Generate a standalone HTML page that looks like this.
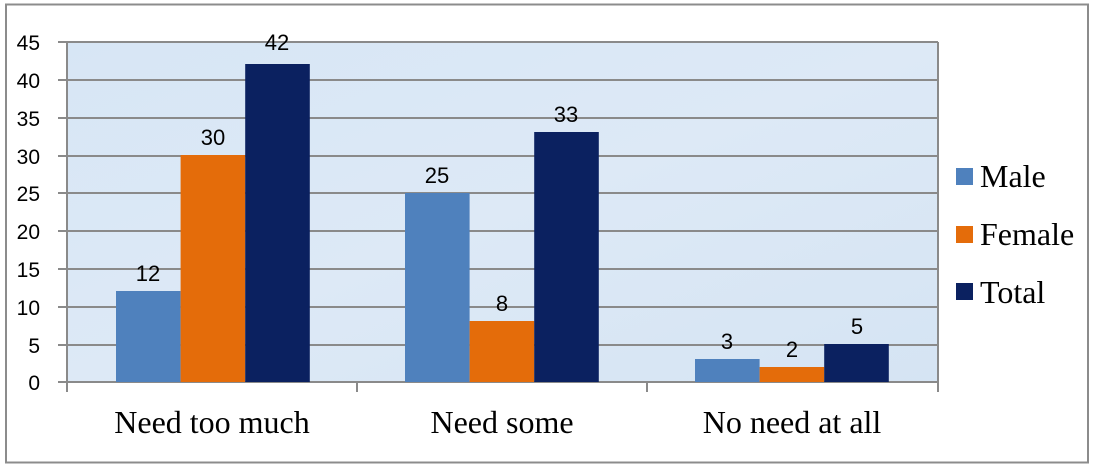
<!DOCTYPE html>
<html><head><meta charset="utf-8"><style>
body{margin:0;background:#fff;}
svg{display:block;}
</style></head><body>
<svg width="1095" height="467" xmlns="http://www.w3.org/2000/svg">
<defs>
<linearGradient id="bg" x1="0" y1="0" x2="1" y2="1">
<stop offset="0" stop-color="#d7e6f5"/><stop offset="0.5" stop-color="#dde9f6"/><stop offset="1" stop-color="#d5e4f3"/>
</linearGradient>
</defs>
<rect x="6" y="4.5" width="1082" height="458" fill="#fff" stroke="#8c8c8c" stroke-width="2"/>
<rect x="67" y="42" width="871" height="340" fill="url(#bg)"/>
<g stroke="#8a8a8a" stroke-width="2">
<line x1="58" y1="42" x2="938" y2="42"/>
<line x1="58" y1="80" x2="938" y2="80"/>
<line x1="58" y1="118" x2="938" y2="118"/>
<line x1="58" y1="156" x2="938" y2="156"/>
<line x1="58" y1="193" x2="938" y2="193"/>
<line x1="58" y1="231" x2="938" y2="231"/>
<line x1="58" y1="269" x2="938" y2="269"/>
<line x1="58" y1="307" x2="938" y2="307"/>
<line x1="58" y1="345" x2="938" y2="345"/>
<line x1="58" y1="382" x2="938" y2="382"/>
<line x1="67" y1="42" x2="67" y2="392"/>
<line x1="357" y1="382" x2="357" y2="392"/>
<line x1="647" y1="382" x2="647" y2="392"/>
<line x1="938" y1="42" x2="938" y2="392"/>
</g>
<g font-family="Liberation Sans, sans-serif" font-size="21" fill="#000" text-anchor="end">
<text x="40" y="50">45</text><text x="40" y="88">40</text><text x="40" y="126">35</text>
<text x="40" y="164">30</text><text x="40" y="201">25</text><text x="40" y="239">20</text>
<text x="40" y="277">15</text><text x="40" y="315">10</text><text x="40" y="353">5</text>
<text x="40" y="390">0</text>
</g>
<rect x="116" y="291" width="64.6" height="91" fill="#4f81bd"/>
<rect x="180.6" y="155" width="64.6" height="227" fill="#e46c0a"/>
<rect x="245.2" y="64" width="64.6" height="318" fill="#0b2160"/>
<rect x="405" y="193" width="64.6" height="189" fill="#4f81bd"/>
<rect x="469.6" y="321" width="64.6" height="61" fill="#e46c0a"/>
<rect x="534.2" y="132" width="64.6" height="250" fill="#0b2160"/>
<rect x="695" y="359" width="64.6" height="23" fill="#4f81bd"/>
<rect x="759.6" y="367" width="64.6" height="15" fill="#e46c0a"/>
<rect x="824.2" y="344" width="64.6" height="38" fill="#0b2160"/>
<g font-family="Liberation Sans, sans-serif" font-size="22" fill="#000" text-anchor="middle">
<text x="148" y="281">12</text><text x="213" y="145">30</text><text x="277" y="50">42</text>
<text x="437" y="183">25</text><text x="502" y="311">8</text><text x="566" y="122">33</text>
<text x="727" y="349">3</text><text x="792" y="357">2</text><text x="857" y="334">5</text>
</g>
<g font-family="Liberation Serif, serif" font-size="32" fill="#000" text-anchor="middle">
<text x="212" y="433">Need too much</text>
<text x="502" y="433">Need some</text>
<text x="792" y="433">No need at all</text>
</g>
<rect x="956" y="168" width="17" height="17" fill="#4f81bd"/>
<rect x="956" y="226" width="17" height="17" fill="#e46c0a"/>
<rect x="956" y="283" width="17" height="17" fill="#0b2160"/>
<g font-family="Liberation Serif, serif" font-size="32" fill="#000">
<text x="980" y="187">Male</text>
<text x="980" y="245">Female</text>
<text x="980" y="303">Total</text>
</g>
</svg>
</body></html>
